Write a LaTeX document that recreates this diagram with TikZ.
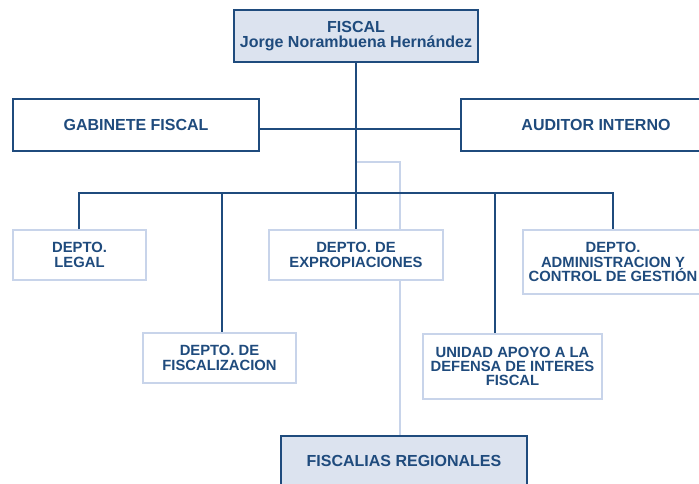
\documentclass[tikz,border=0pt]{standalone}
\usepackage{fontspec}
\setmainfont{Liberation Sans}
\definecolor{dk}{HTML}{1F4B7D}
\definecolor{lt}{HTML}{C8D4EA}
\definecolor{fillb}{HTML}{DCE3EF}
\begin{document}
\begin{tikzpicture}[x=1pt,y=-1pt,
 every node/.style={font=\fontsize{14.8}{14.3}\selectfont\bfseries, text=dk, align=center, inner sep=0pt},
 box/.style={draw=dk, line width=1.7pt, fill=white, font=\fontsize{16}{15}\selectfont\bfseries},
 lbox/.style={draw=lt, line width=1.7pt, fill=white},
 hbox/.style={draw=dk, line width=1.7pt, fill=fillb, font=\fontsize{16}{15}\selectfont\bfseries},
 dline/.style={draw=dk, line width=1.8pt},
 lline/.style={draw=lt, line width=1.7pt}]
\useasboundingbox (0,0) rectangle (699,483);
\clip (0,0) rectangle (699,483);
\fill[white] (0,0) rectangle (699,483);
\node[hbox, minimum width=244, minimum height=52] (fiscal) at (356,36) {FISCAL\\Jorge Norambuena Hernández};
\node[box, minimum width=246, minimum height=52] (gab) at (136,125) {GABINETE FISCAL};
\node[box, minimum width=270, minimum height=52] (aud) at (596,125) {AUDITOR INTERNO};
\node[lbox, minimum width=133, minimum height=50] (legal) at (79.5,255) {DEPTO.\\LEGAL};
\node[lbox, minimum width=174, minimum height=50] (exp) at (356,255) {DEPTO. DE\\EXPROPIACIONES};
\node[lbox, minimum width=180, minimum height=64] (adm) at (613,262) {DEPTO.\\ADMINISTRACION Y\\CONTROL DE GESTIÓN};
\node[lbox, minimum width=153, minimum height=50] (fiscz) at (219.5,358) {DEPTO. DE\\FISCALIZACION};
\node[lbox, minimum width=179, minimum height=65] (uni) at (512.5,366.5) {UNIDAD APOYO A LA\\DEFENSA DE INTERES\\FISCAL};
\node[hbox, minimum width=246, minimum height=50] (reg) at (404,461) {FISCALIAS REGIONALES};
\coordinate (hj) at (356,129);
\coordinate (lj) at (356,162);
\coordinate (lx) at (400,162);
\coordinate (bus) at (356,193);
\coordinate (dl) at (79,193);
\coordinate (dz) at (222,193);
\coordinate (du) at (495,193);
% light connector to regional offices
\draw[lline] (lj) -- (lx) -- (lx |- exp.north);
\draw[lline] (exp.south -| lx) -- (lx |- reg.north);
% dark connectors
\draw[dline] (fiscal.south) -- (exp.north);
\draw[dline] (gab.east |- hj) -- (aud.west |- hj);
\draw[dline] (dl |- legal.north) -- (dl) -- (adm.north |- bus) -- (adm.north);
\draw[dline] (dz) -- (dz |- fiscz.north);
\draw[dline] (du) -- (du |- uni.north);
\end{tikzpicture}
\end{document}
